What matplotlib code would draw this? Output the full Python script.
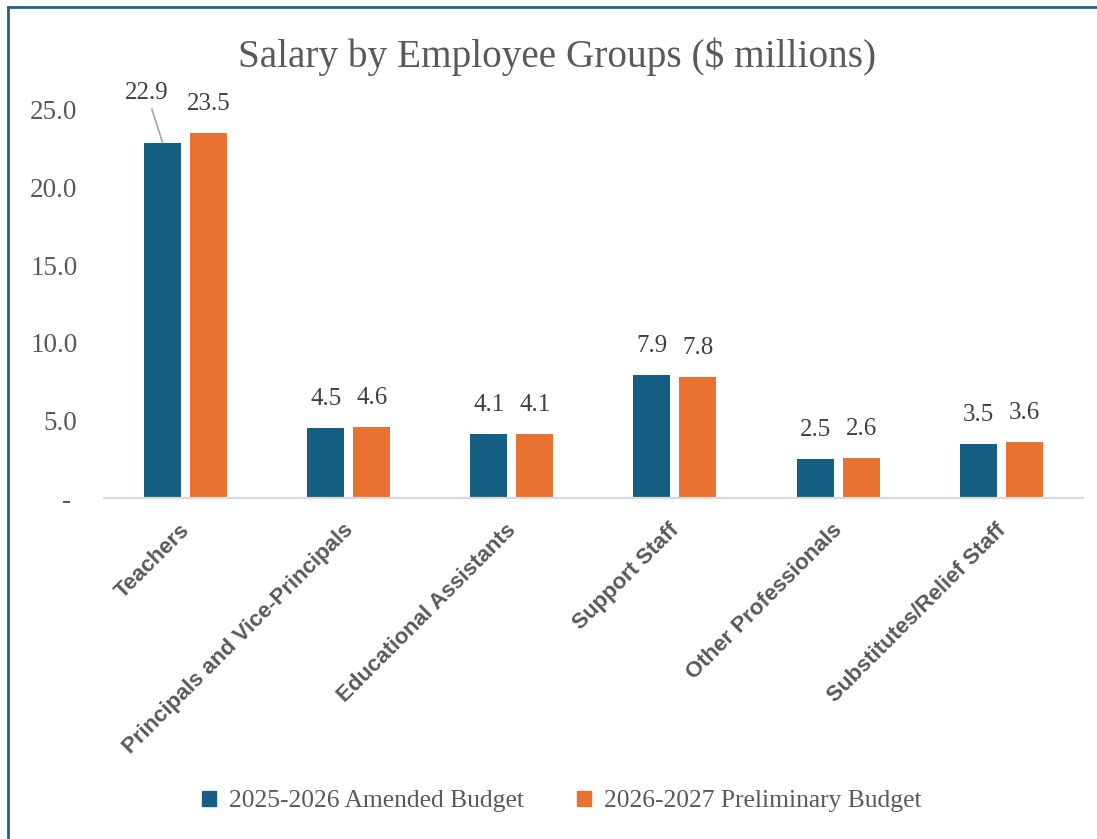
import numpy as np
import matplotlib
matplotlib.use("Agg")
import matplotlib.pyplot as plt
import matplotlib.transforms as mtransforms
from matplotlib.lines import Line2D

categories = ["Teachers", "Principals and Vice-Principals", "Educational Assistants",
              "Support Staff", "Other Professionals", "Substitutes/Relief Staff"]
amended_2526 = [22.9, 4.5, 4.1, 7.9, 2.5, 3.5]
prelim_2627 = [23.5, 4.6, 4.1, 7.8, 2.6, 3.6]
series_names = ["2025-2026 Amended Budget", "2026-2027 Preliminary Budget"]
yticks = [0, 5, 10, 15, 20, 25]
ytick_labels = ["- ", "5.0", "10.0", "15.0", "20.0", "25.0"]

BLUE = "#156082"
ORANGE = "#E97132"
GREY_TXT = "#595959"
LABEL_TXT = "#404040"
SERIF = "Liberation Serif"

fig = plt.figure(figsize=(10.97, 8.39), dpi=100)
ax = fig.add_axes([0.0948, 0.4064, 0.8922, 0.4626])

x = np.arange(len(categories))
w = 0.227
off = 0.141
b1 = ax.bar(x - off, amended_2526, w, color=BLUE, label=series_names[0])
b2 = ax.bar(x + off, prelim_2627, w, color=ORANGE, label=series_names[1])

ax.set_xlim(-0.5, len(categories) - 0.5)
ax.set_ylim(0, 25)
ax.set_yticks(yticks)
ax.set_yticklabels(ytick_labels, fontfamily=SERIF, fontsize=19.5, color=GREY_TXT)
ax.tick_params(axis="y", length=0, pad=19)
ax.set_xticks(x)
ax.set_xticklabels(categories, rotation=45, ha="right", rotation_mode="anchor",
                   fontfamily="Liberation Sans", fontweight="bold", fontsize=16,
                   color=GREY_TXT)
ax.tick_params(axis="x", length=0, pad=14)
# nudge the rotated category labels a little left/down
shift = mtransforms.ScaledTranslation(-6 / 100, -2 / 100, fig.dpi_scale_trans)
for lbl in ax.get_xticklabels():
    lbl.set_transform(lbl.get_transform() + shift)

for s in ["top", "right", "left"]:
    ax.spines[s].set_visible(False)
ax.spines["bottom"].set_color("#D9D9D9")
ax.spines["bottom"].set_linewidth(1.6)

# data labels
for bars, vals in [(b1, amended_2526), (b2, prelim_2627)]:
    for i, (bar, v) in enumerate(zip(bars, vals)):
        cx = bar.get_x() + bar.get_width() / 2
        if i == 0 and bars is b1:
            # leader line label for Teachers (2025-2026)
            ax.annotate(f"{v:.1f}", xy=(cx, v), xytext=(-11.5, 28),
                        textcoords="offset points", ha="center", va="bottom",
                        fontfamily=SERIF, fontsize=18, color=LABEL_TXT,
                        arrowprops=dict(arrowstyle="-", color="#A6A6A6", lw=1.2,
                                        shrinkA=2, shrinkB=0))
        else:
            ax.annotate(f"{v:.1f}", xy=(cx, v), xytext=(0, 13),
                        textcoords="offset points", ha="center", va="bottom",
                        fontfamily=SERIF, fontsize=18, color=LABEL_TXT)

fig.text(0.508, 0.932, "Salary by Employee Groups ($ millions)", ha="center",
         va="center", fontfamily=SERIF, fontsize=28.3, color=GREY_TXT)

handles = [plt.Rectangle((0, 0), 1, 1, color=BLUE),
           plt.Rectangle((0, 0), 1, 1, color=ORANGE)]
fig.legend(handles, series_names, loc="center", bbox_to_anchor=(0.512, 0.045),
           ncol=2, frameon=False, handlelength=0.55, handleheight=0.55,
           handletextpad=0.5, columnspacing=2.1,
           prop={"family": SERIF, "size": 18.4}, labelcolor=GREY_TXT)

# outer border (top and left edges)
fig.add_artist(Line2D([7.5 / 1097, 1], [1 - 6.5 / 839, 1 - 6.5 / 839],
                      transform=fig.transFigure, color="#1F6285", lw=2))
fig.add_artist(Line2D([7.5 / 1097, 7.5 / 1097], [0, 1 - 6.5 / 839],
                      transform=fig.transFigure, color="#1F6285", lw=2))

fig.savefig("out.png", dpi=100)
